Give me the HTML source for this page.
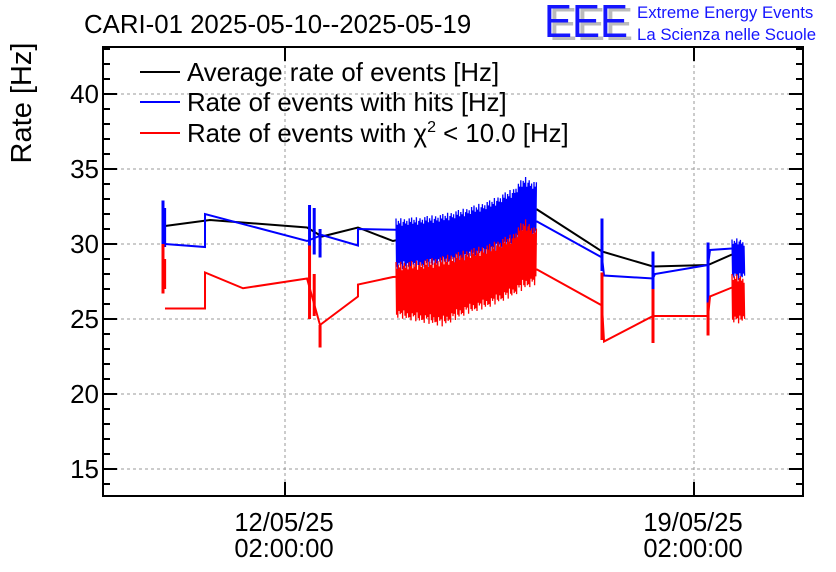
<!DOCTYPE html>
<html><head><meta charset="utf-8"><style>
body{margin:0;background:#fff;}
svg{display:block;font-family:"Liberation Sans",Arial,sans-serif;}
</style></head><body>
<svg id="chart" width="836" height="572" viewBox="0 0 836 572" xmlns="http://www.w3.org/2000/svg">
<rect width="836" height="572" fill="#fff"/>
<text x="84" y="33" font-size="25.8">CARI-01 2025-05-10--2025-05-19</text>
<g>
<text x="549" y="40" font-size="46" fill="#bbb" textLength="84" lengthAdjust="spacingAndGlyphs">EEE</text>
<text x="544" y="37" font-size="46" fill="#1515ff" textLength="84" lengthAdjust="spacingAndGlyphs">EEE</text>
<text x="637" y="18" font-size="16.8" fill="#1515ff">Extreme Energy Events</text>
<text x="637" y="40" font-size="16.8" fill="#1515ff">La Scienza nelle Scuole</text>
</g>
<text transform="translate(31,103) rotate(-90)" text-anchor="middle" font-size="29">Rate [Hz]</text>
<g id="grid"></g>
<g id="series"></g>
<g id="axes"></g>
<g font-size="25.8">
<line x1="140" y1="72" x2="180" y2="72" stroke="#000" stroke-width="2"/>
<text x="187" y="81">Average rate of events [Hz]</text>
<line x1="140" y1="102" x2="180" y2="102" stroke="#0000ff" stroke-width="2"/>
<text x="187" y="111">Rate of events with hits [Hz]</text>
<line x1="140" y1="133" x2="180" y2="133" stroke="#ff0000" stroke-width="2"/>
<text x="187" y="142">Rate of events with χ<tspan font-size="16" dy="-10">2</tspan><tspan dy="10"> &lt; 10.0 [Hz]</tspan></text>
</g>
</svg>
<script>
// data: t = days since 12/05/25 02:00:00, values in Hz
const yTicks=[15,20,25,30,35,40];
const xTickDays=[0,7];
const xTickLabels=[["12/05/25","02:00:00"],["19/05/25","02:00:00"]];
const blackT=[-2.054,-1.284,0.377,0.633,1.249,1.848,4.313,5.425,6.298,7.24,7.65];
const blackV=[31.2,31.6,31.1,30.5,31.1,30.2,32.3,29.5,28.5,28.6,29.3];
const blueT=[-2.054,-1.369,-1.369,0.377,0.633,1.249,1.249,1.9,4.313,5.425,5.46,6.298,6.332,7.24,7.274,7.65];
const blueV=[30.0,29.8,32.0,30.2,30.6,29.9,31.0,30.95,31.5,29.1,27.9,27.7,28.0,28.6,29.6,29.7];
const redT=[-2.054,-1.369,-1.369,-0.719,0.377,0.599,1.249,1.249,1.848,4.313,5.425,5.46,6.298,7.24,7.274,7.65];
const redV=[25.7,25.7,28.1,27.05,27.7,24.6,26.5,27.3,27.8,28.3,25.9,23.5,25.2,25.2,26.5,27.1];
const blueSpikeT=[-2.088,-2.06,0.42,0.5,0.6,5.425,6.298,7.24];
const blueSpikeLo=[29.5,29.8,29.6,29.3,29.1,28.2,26.9,26.0];
const blueSpikeHi=[32.9,32.4,32.6,32.4,31.0,31.7,29.5,30.1];
const redSpikeT=[-2.088,-2.06,0.42,0.5,0.6,5.425,6.298,7.24];
const redSpikeLo=[26.7,27.0,25.0,25.2,23.1,23.6,23.4,23.9];
const redSpikeHi=[30.0,29.0,29.9,28.0,24.6,28.1,27.0,26.1];
const band1T=[1.9,2.3,2.7,3.1,3.5,3.9,4.1,4.31];
const band1BlueHi=[31.7,31.8,32.0,32.4,32.9,33.7,34.5,34.1];
const band1BlueLo=[28.3,28.4,28.6,28.9,29.3,29.9,30.4,30.3];
const band1RedHi=[28.8,28.9,29.2,29.6,30.0,30.7,31.7,31.0];
const band1RedLo=[25.1,24.8,24.5,25.3,25.8,26.5,27.0,27.3];
const band2T=[7.65,7.76,7.87];
const band2BlueHi=[30.3,30.4,30.2];
const band2BlueLo=[27.8,27.6,27.8];
const band2RedHi=[28.0,28.0,27.8];
const band2RedLo=[24.8,24.7,24.9];

const L=103,R=803,T=47,B=496;
const X=t=>285+t*58.43;
const Y=v=>469-(v-15)*15;
const NS="http://www.w3.org/2000/svg";
function mk(tag,parent,attrs){const e=document.createElementNS(NS,tag);for(const k in attrs)e.setAttribute(k,attrs[k]);parent.appendChild(e);return e;}
const grid=document.getElementById('grid'),ser=document.getElementById('series'),ax=document.getElementById('axes');
yTicks.forEach(v=>{const l=mk('line',grid,{x1:L,x2:R,y1:Y(v),y2:Y(v),stroke:'#999','stroke-dasharray':'3,3'});

});
xTickDays.forEach(t=>{const l=mk('line',grid,{x1:X(t),x2:X(t),y1:T,y2:B,stroke:'#999','stroke-dasharray':'3,3'});

});
function interp(T_,A,t){for(let i=0;i<T_.length-1;i++){if(t<=T_[i+1]){const f=(t-T_[i])/(T_[i+1]-T_[i]);return A[i]+(A[i+1]-A[i])*f;}}return A[A.length-1];}
// jagged noise rendering inside the envelope (deterministic visual pattern)
const jag=[1,0.75,0.9,0.8,1,0.7,0.85,0.95,0.78,0.88,0.72,0.97,0.83];
const jagLo=[0.9,1,0.75,0.85,0.8,1,0.7,0.88,0.95,0.78,0.92];
function band(T_,hi,lo,col,name){const x0=X(T_[0]),x1=X(T_[T_.length-1]);const pts=[];let k=0;
for(let x=x0;x<=x1;x+=0.6,k++){const t=(x-285)/58.43;const h=interp(T_,hi,t),l=interp(T_,lo,t),m=(h+l)/2;
const v=(k%2===0)?m+(h-m)*jag[(k/2|0)%13]:m-(m-l)*jagLo[(k/2|0)%11];pts.push(x.toFixed(1)+','+Y(v).toFixed(1));}
const e=mk('polyline',ser,{points:pts.join(' '),fill:'none',stroke:col,'stroke-width':1.3});

}
function line(T_,V,col,name){const e=mk('polyline',ser,{points:T_.map((t,i)=>X(t)+','+Y(V[i])).join(' '),fill:'none',stroke:col,'stroke-width':2});

}
function spikes(T_,lo,hi,col,name){T_.forEach((t,i)=>{const e=mk('line',ser,{x1:X(t),x2:X(t),y1:Y(lo[i]),y2:Y(hi[i]),stroke:col,'stroke-width':3});

});}
line(blackT,blackV,'#000','average-rate-line');
line(blueT,blueV,'#0000ff','hits-rate-line');
spikes(blueSpikeT,blueSpikeLo,blueSpikeHi,'#0000ff','hits-rate-spike');
band(band1T,band1BlueHi,band1BlueLo,'#0000ff','hits-rate-noise-band');
band(band2T,band2BlueHi,band2BlueLo,'#0000ff','hits-rate-noise-band');
line(redT,redV,'#ff0000','chi2-rate-line');
spikes(redSpikeT,redSpikeLo,redSpikeHi,'#ff0000','chi2-rate-spike');
band(band1T,band1RedHi,band1RedLo,'#ff0000','chi2-rate-noise-band');
band(band2T,band2RedHi,band2RedLo,'#ff0000','chi2-rate-noise-band');
const fr=mk('rect',ax,{x:L,y:T,width:R-L,height:B-T,fill:'none',stroke:'#000','stroke-width':2});


for(let v=14;v<=43;v++){const len=(v%5===0)?14:7;
mk('line',ax,{x1:L,x2:L+len,y1:Y(v),y2:Y(v),stroke:'#000','stroke-width':2});
mk('line',ax,{x1:R,x2:R-len,y1:Y(v),y2:Y(v),stroke:'#000','stroke-width':2});}
yTicks.forEach(v=>{const e=mk('text',ax,{x:99,y:Y(v)+9,'text-anchor':'end','font-size':26});e.textContent=v;

});
xTickDays.forEach((t,i)=>{mk('line',ax,{x1:X(t),x2:X(t),y1:B,y2:B-14,stroke:'#000','stroke-width':2});
mk('line',ax,{x1:X(t),x2:X(t),y1:T,y2:T+14,stroke:'#000','stroke-width':2});
const a=mk('text',ax,{x:X(t)-1,y:531,'text-anchor':'middle','font-size':25.5});a.textContent=xTickLabels[i][0];


const b=mk('text',ax,{x:X(t)-1,y:557,'text-anchor':'middle','font-size':25.5});b.textContent=xTickLabels[i][1];

});
</script>
</body></html>
